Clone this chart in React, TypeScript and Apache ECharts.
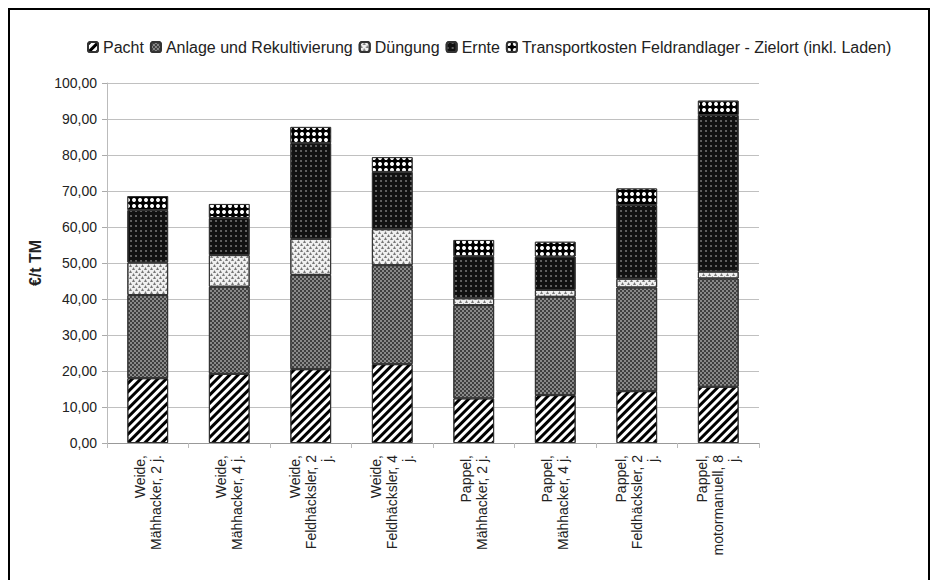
import React, { useEffect, useRef } from "react";
import * as echarts from "echarts";

const categories = [
  "Weide,\nMähhacker, 2 j.",
  "Weide,\nMähhacker, 4 j.",
  "Weide,\nFeldhäcksler, 2\nj.",
  "Weide,\nFeldhäcksler, 4\nj.",
  "Pappel,\nMähhacker, 2 j.",
  "Pappel,\nMähhacker, 4 j.",
  "Pappel,\nFeldhäcksler, 2\nj.",
  "Pappel,\nmotormanuell, 8\nj.",
];

const pacht = [18.0, 19.2, 20.5, 21.9, 12.4, 13.3, 14.4, 15.6];
const anlage = [23.1, 24.2, 26.2, 27.5, 25.9, 27.3, 28.8, 30.1];
const duengung = [9.0, 8.8, 10.0, 10.0, 1.9, 1.9, 2.4, 1.9];
const ernte = [14.6, 10.3, 26.6, 15.9, 11.7, 9.3, 20.5, 43.5];
const transport = [3.9, 3.9, 4.5, 4.1, 4.5, 4.1, 4.6, 4.0];

const seriesNames = [
  "Pacht",
  "Anlage und Rekultivierung",
  "Düngung",
  "Ernte",
  "Transportkosten Feldrandlager - Zielort (inkl. Laden)",
];

const yTicks = { min: 0, max: 100, interval: 10 };

const FONT = "Liberation Sans, Arial, sans-serif";

export default function App() {
  const ref = useRef<HTMLDivElement>(null);
  useEffect(() => {
    if (!ref.current) return;
    const chart = echarts.init(ref.current, undefined, { renderer: "svg" });
    const styles: any[] = [
      {
        color: "#ffffff",
        decal: {
          symbol: "rect",
          symbolSize: 1,
          color: "#000000",
          dashArrayX: [1, 0],
          dashArrayY: [3, 3],
          rotation: -Math.PI / 4,
        },
      },
      {
        color: "#8a8a8a",
        decal: {
          symbol: "rect",
          symbolSize: 1,
          color: "#404040",
          dashArrayX: [
            [2, 2],
            [0, 2, 2, 0],
          ],
          dashArrayY: [2, 0],
          rotation: 0,
        },
      },
      {
        color: "#f0f0f0",
        decal: {
          symbol: "triangle",
          symbolSize: 1,
          color: "#767676",
          dashArrayX: [
            [3, 3],
            [0, 3, 3, 0],
          ],
          dashArrayY: [3, 0],
          rotation: 0,
        },
      },
      {
        color: "#111111",
        decal: {
          symbol: "circle",
          symbolSize: 0.8,
          color: "#8a8a8a",
          dashArrayX: [2, 3],
          dashArrayY: [2, 3],
          rotation: 0,
        },
      },
      {
        color: "#000000",
        decal: {
          symbol: "circle",
          symbolSize: 1,
          color: "#ffffff",
          dashArrayX: [4, 2],
          dashArrayY: [4, 2],
          rotation: 0,
        },
      },
    ];
    const dataSets = [pacht, anlage, duengung, ernte, transport];
    chart.setOption({
      animation: false,
      backgroundColor: "#ffffff",
      textStyle: { fontFamily: FONT },
      graphic: [
        {
          type: "rect",
          shape: { x: 9, y: 9, width: 920, height: 600 },
          style: { fill: "none", stroke: "#000", lineWidth: 2 },
          silent: true,
        },
      ],
      legend: {
        left: 82,
        top: 34,
        itemWidth: 10,
        itemHeight: 10,
        itemGap: 6,
        textStyle: { fontSize: 16, color: "#222", fontFamily: FONT },
        data: seriesNames,
      },
      grid: { left: 107, right: 173, top: 83, bottom: 137 },
      xAxis: {
        type: "category",
        data: categories,
        axisLine: { show: true, lineStyle: { color: "#999" } },
        axisTick: { show: true, length: 5, lineStyle: { color: "#bbb" } },
        axisLabel: {
          rotate: 90,
          margin: 12,
          fontSize: 14,
          lineHeight: 16,
          color: "#222",
          fontFamily: FONT,
          interval: 0,
        },
      },
      yAxis: {
        type: "value",
        min: yTicks.min,
        max: yTicks.max,
        interval: yTicks.interval,
        name: "€/t TM",
        nameLocation: "middle",
        nameGap: 46,
        nameRotate: 90,
        nameTextStyle: { fontSize: 16, fontWeight: "bold", color: "#222", fontFamily: FONT },
        axisLine: { show: true, lineStyle: { color: "#bbb" } },
        axisTick: { show: true, length: 5, lineStyle: { color: "#aaa" } },
        axisLabel: {
          fontSize: 14,
          color: "#222",
          margin: 10,
          fontFamily: FONT,
          formatter: (v: number) => v.toFixed(2).replace(".", ","),
        },
        splitLine: { show: true, lineStyle: { color: "#c0c0c0" } },
      },
      series: seriesNames.map((name, i) => ({
        name,
        type: "bar",
        stack: "total",
        barWidth: "50%",
        data: dataSets[i],
        itemStyle: {
          ...styles[i],
          borderColor: "#333",
          borderWidth: 1,
        },
      })),
    });
    return () => chart.dispose();
  }, []);
  return (
    <div
      ref={ref}
      style={{ position: "fixed", left: 0, top: 0, width: 932, height: 580 }}
    />
  );
}
